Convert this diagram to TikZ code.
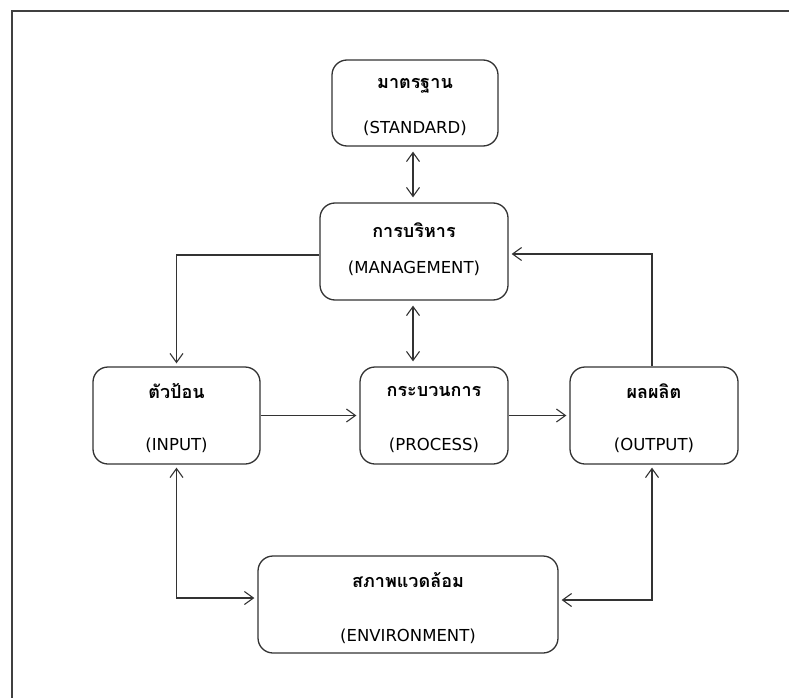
\documentclass[tikz,border=0pt]{standalone}
\usepackage{fontspec}
\setmainfont{DejaVu Sans}
\newfontfamily\thaifont[Script=Thai]{Loma}
\usetikzlibrary{arrows.meta}
\begin{document}
\begin{tikzpicture}[x=1pt,y=-1pt,
    every edge/.style={draw=black!80, line width=1.2pt},
    box/.style={draw=black!80, line width=1.3pt, rounded corners=15pt, inner sep=0pt, minimum height=97pt},
    thai/.style={font=\thaifont\bfseries\fontsize{18}{20}\selectfont, inner sep=0pt},
    eng/.style={font=\fontsize{16.5}{19}\selectfont, inner sep=0pt},
    tip/.style={-{Straight Barb[length=9pt,width=13pt,line width=1.1pt]}, shorten >=3pt},
    bitip/.style={{Straight Barb[length=9pt,width=13pt,line width=1.1pt]}-{Straight Barb[length=9pt,width=13pt,line width=1.1pt]}, shorten >=5pt, shorten <=5pt}]
  \useasboundingbox (0,0) rectangle (789,698);
  \draw[black!75, line width=2pt] (12,698) -- (12,11) -- (789,11);
  % boxes
  \node[box, minimum width=166pt, minimum height=86pt] (std) at (415,103) {};
  \node[box, minimum width=188pt] (mgmt) at (414,251.5) {};
  \node[box, minimum width=167pt] (input) at (176.5,415.5) {};
  \node[box, minimum width=148pt] (proc) at (434,415.5) {};
  \node[box, minimum width=168pt] (out) at (654,415.5) {};
  \node[box, minimum width=300pt] (env) at (408,604.5) {};
  % texts
  \node[thai] (stdth) at ([yshift=17pt]std.center) {มาตรฐาน};
  \node[eng] (stden) at ([yshift=-25pt]std.center) {(STANDARD)};
  \node[thai] (mgmtth) at ([yshift=21.5pt]mgmt.center) {การบริหาร};
  \node[eng] (mgmten) at ([yshift=-17pt]mgmt.center) {(MANAGEMENT)};
  \node[thai] (inputth) at ([yshift=24.5pt]input.center) {ตัวป้อน};
  \node[eng] (inputen) at ([yshift=-29.5pt]input.center) {(INPUT)};
  \node[thai] (procth) at ([yshift=24.5pt]proc.center) {กระบวนการ};
  \node[eng] (procen) at ([yshift=-29.5pt]proc.center) {(PROCESS)};
  \node[thai] (outth) at ([yshift=24.5pt]out.center) {ผลผลิต};
  \node[eng] (outen) at ([yshift=-29.5pt]out.center) {(OUTPUT)};
  \node[thai] (envth) at ([yshift=24pt]env.center) {สภาพแวดล้อม};
  \node[eng] (enven) at ([yshift=-32pt]env.center) {(ENVIRONMENT)};
  % connectors
  \begin{scope}[black!80, line width=1.2pt]
    \path ([xshift=-2pt]std.south) edge[bitip] ([xshift=-1pt]mgmt.north);
    \path ([xshift=-1pt]mgmt.south) edge[bitip] ([xshift=-1pt]mgmt.south |- proc.north);
    \path (input) edge[tip] (proc);
    \path (proc) edge[tip] (out);
    \draw[tip] ([yshift=-3.5pt]mgmt.west) -| (input.north);
    \draw[tip] ([xshift=-2pt]out.north) |- ([yshift=-2.5pt]mgmt.east);
    \draw[bitip, shorten <=3pt, shorten >=3pt] (input.south) |- ([yshift=6.5pt]env.west);
    \draw[bitip, shorten <=3pt, shorten >=3pt] ([xshift=-2pt]out.south) |- ([yshift=4.5pt]env.east);
  \end{scope}
\end{tikzpicture}
\end{document}
